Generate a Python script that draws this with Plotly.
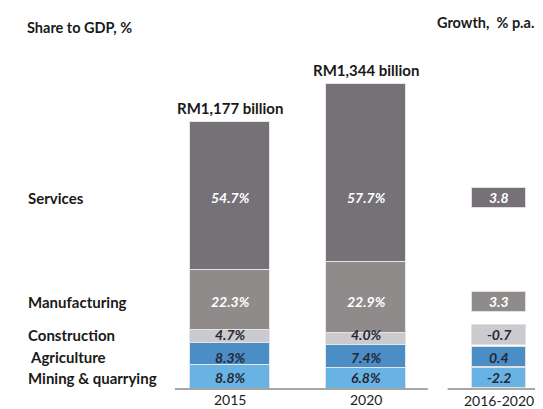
import numpy as np
import plotly.graph_objects as go

# data
years = ["2015", "2020"]
gdp_total = [1177, 1344]           # RM billion
sectors = ["Mining & quarrying", "Agriculture", "Construction", "Manufacturing", "Services"]
share_2015 = [8.8, 8.3, 4.7, 22.3, 54.7]
share_2020 = [6.8, 7.4, 4.0, 22.9, 57.7]
growth = [-2.2, 0.4, -0.7, 3.3, 3.8]
growth_label = "2016-2020"

colors = ["#68b3e3", "#4a8ec5", "#cbcacf", "#8f8b8b", "#757176"]
text_colors = ["#262636", "#262636", "#262636", "white", "white"]

# label rows (in RM billion on the value axis), shared by left labels and growth boxes
row_y = [48, 138, 236, 380, 832]
box_h = 88
x_pos = [0, 1]
x_growth = 1.98

FONT = "Lato"
# the page body has an 8px margin, so the figure is drawn 8px smaller
W, H = 535, 401
OFF = 8

shares = np.array([share_2015, share_2020])
values = shares * np.array(gdp_total)[:, None] / 100
bases = np.cumsum(values, axis=1) - values

fig = go.Figure()

for i, name in enumerate(sectors):
    fig.add_trace(go.Bar(x=x_pos, y=values[:, i], base=bases[:, i], width=0.59,
                         marker=dict(color=colors[i], line=dict(color="#e6e6e6", width=1)),
                         name=name, showlegend=False, hoverinfo="skip"))

# growth boxes
fig.add_trace(go.Bar(x=[x_growth] * len(growth), y=[box_h] * len(growth),
                     base=[r - box_h / 2 for r in row_y], width=0.40,
                     marker=dict(color=colors, line=dict(color="#e0e0e0", width=1)),
                     showlegend=False, hoverinfo="skip"))

ann = []
# segment labels
for j, yr in enumerate(years):
    for i in range(len(sectors)):
        ann.append(dict(x=x_pos[j], y=row_y[i], text=f"{shares[j, i]:.1f}%", showarrow=False,
                        font=dict(family=FONT, size=14, color=text_colors[i], style="italic", weight="bold")))
    # totals
    ann.append(dict(x=x_pos[j], y=values[j].sum(), text=f"RM{gdp_total[j]:,} billion", showarrow=False,
                    yanchor="bottom", yshift=3,
                    font=dict(family=FONT, size=15, color="#1a1a1a", weight="bold")))
    ann.append(dict(x=x_pos[j], y=0, text=yr, showarrow=False, yanchor="middle", yshift=-10,
                    font=dict(family=FONT, size=14, color="#222222")))

for i in range(len(sectors)):
    ann.append(dict(x=x_growth, y=row_y[i], text=f"{growth[i]:.1f}", showarrow=False,
                    font=dict(family=FONT, size=14, color=text_colors[i], style="italic", weight="bold")))
    ann.append(dict(xref="paper", x=((28 if i == 1 else 26) - OFF) / W, xanchor="left", y=row_y[i],
                    text=sectors[i], showarrow=False,
                    font=dict(family=FONT, size=15, color="#1a1a1a", weight="bold")))

ann.append(dict(x=x_growth, y=0, text=growth_label, showarrow=False, yanchor="middle", yshift=-11,
                font=dict(family=FONT, size=14, color="#222222")))
ann.append(dict(xref="paper", yref="paper", x=(25 - OFF) / W, y=1 - (27 - OFF) / H, xanchor="left",
                yanchor="middle", text="Share to GDP, %", showarrow=False,
                font=dict(family=FONT, size=14.5, color="#1a1a1a", weight="bold")))
ann.append(dict(xref="paper", yref="paper", x=(435 - OFF) / W, y=1 - (22 - OFF) / H, xanchor="left",
                yanchor="middle", text="Growth,  % p.a.", showarrow=False,
                font=dict(family=FONT, size=14.5, color="#1a1a1a", weight="bold")))

shapes = [
    dict(type="line", x0=-0.405, x1=1.455, y0=0, y1=0, line=dict(color="#8a8a8a", width=1.3)),
    dict(type="line", x0=1.60, x1=2.35, y0=0, y1=0, line=dict(color="#8a8a8a", width=1.3)),
]

fig.update_layout(
    width=W, height=H, margin=dict(l=0, r=0, t=0, b=0),
    barmode="overlay", bargap=0,
    plot_bgcolor="white", paper_bgcolor="white",
    xaxis=dict(range=[-222 / 136, (W - 222) / 136], visible=False),
    yaxis=dict(range=[-(H - 381) / 0.2299, 381 / 0.2299], visible=False),
    annotations=ann, shapes=shapes,
)

fig.write_html("out.html")
